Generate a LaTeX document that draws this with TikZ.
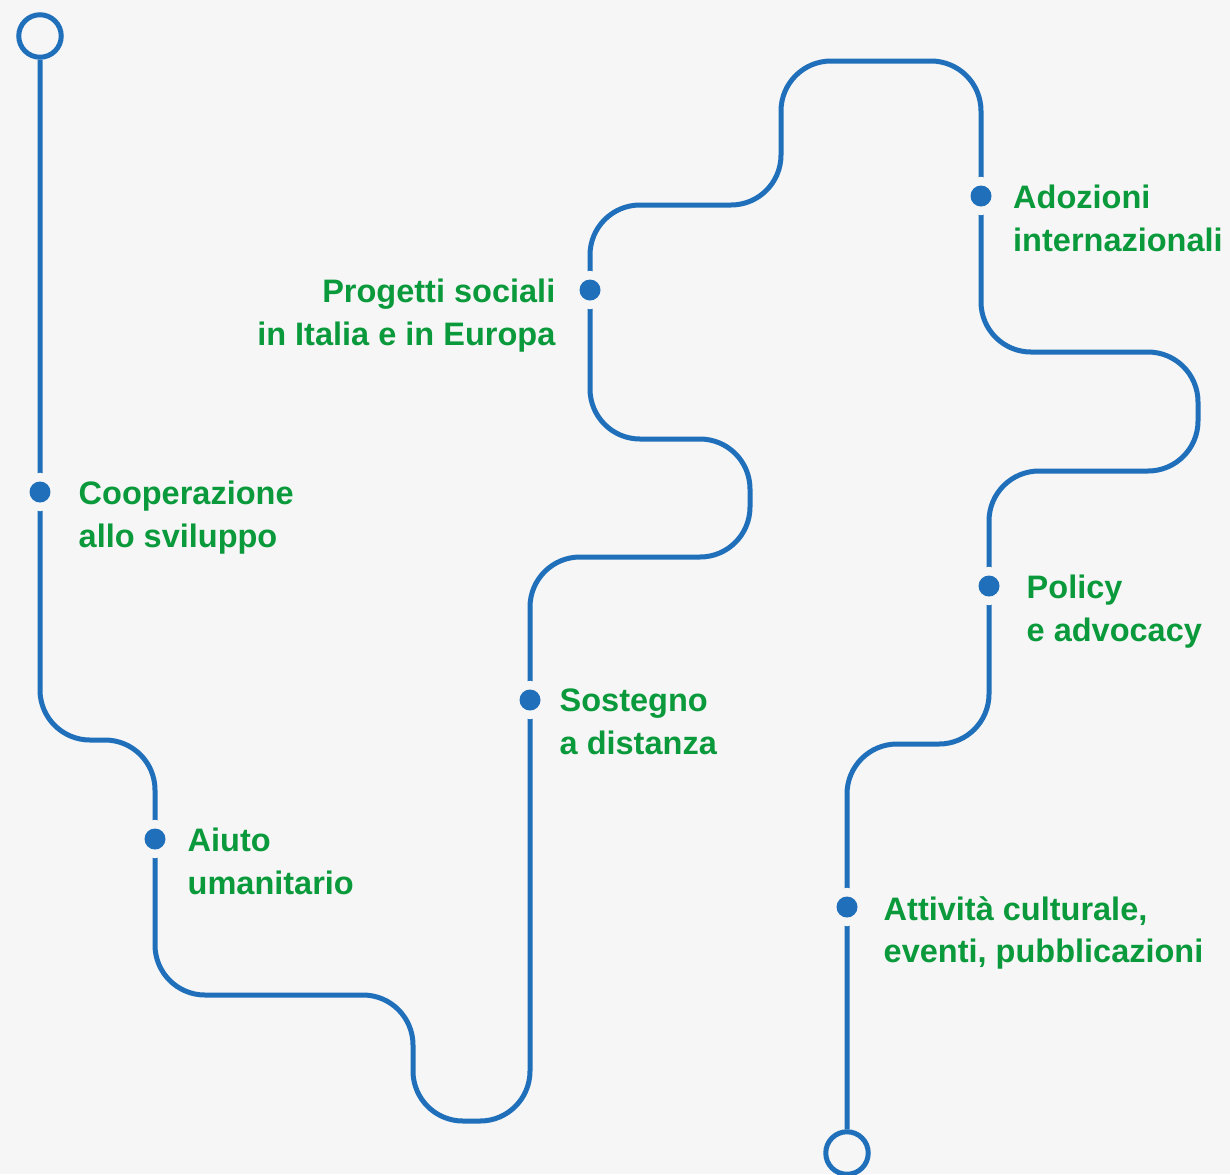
\documentclass[tikz,border=0pt]{standalone}
\usepackage{fontspec}
\setmainfont{Liberation Sans}
\usetikzlibrary{positioning}
\definecolor{paper}{HTML}{F6F6F6}
\definecolor{routeblue}{HTML}{1F6FBA}
\definecolor{tagreen}{HTML}{0A9A3C}
\tikzset{
  route/.style={draw=routeblue, line width=0.1cm, rounded corners=1cm},
  terminus/.style={circle, draw=routeblue, line width=0.1cm, fill=paper,
    minimum size=0.85cm, inner sep=0pt},
  halt/.style={circle, fill=routeblue, minimum size=0.42cm, inner sep=0pt,
    preaction={draw=paper, line width=0.34cm}},
  tag/.style={text=tagreen, inner sep=0pt, yshift=6.3pt,
    font=\bfseries\fontsize{18.5}{24}\selectfont},
  tagleft/.style={tag, align=left, anchor=north west},
  tagright/.style={tag, align=right, anchor=north east}
}
\begin{document}
\begin{tikzpicture}[x=0.02cm, y=-0.02cm]
  \fill[paper] (0,0) rectangle (1230,1174);
  \useasboundingbox (0,0) rectangle (1230,1174);

  % ends of the line
  \node[terminus] (start) at (40,36) {};
  \node[terminus] (finish) at (847,1153) {};

  % the winding line
  \draw[route] (start) -- (40,740) -- (155,740) -- (155,995)
    -- (413,995) -- (413,1121) -- (530,1121) -- (530,557)
    -- (750,557) -- (750,439) -- (590,439) -- (590,205)
    -- (781,205) -- (781,61) -- (981,61) -- (981,352)
    -- (1198,352) -- (1198,471) -- (989,471) -- (989,744)
    -- (847,744) -- (finish);

  % stops
  \node[halt] (coop) at (40,492) {};
  \node[halt] (aiuto) at (155,839) {};
  \node[halt] (sostegno) at (530,700) {};
  \node[halt] (progetti) at (590,290) {};
  \node[halt] (adozioni) at (981,196) {};
  \node[halt] (policy) at (989,586) {};
  \node[halt] (attivita) at (847,907) {};

  % labels
  \node[tagleft, right=0.55cm of coop, anchor=north west] (coopt) {Cooperazione\\allo sviluppo};
  \node[tagleft, right=0.43cm of aiuto, anchor=north west] (aiutot) {Aiuto\\umanitario};
  \node[tagleft, right=0.37cm of sostegno, anchor=north west] (sostegnot) {Sostegno\\a distanza};
  \node[tagright, left=0.47cm of progetti, anchor=north east] (progettit) {Progetti sociali\\in Italia e in Europa};
  \node[tagleft, right=0.42cm of adozioni, anchor=north west] (adozionit) {Adozioni\\internazionali};
  \node[tagleft, right=0.53cm of policy, anchor=north west] (policyt) {Policy\\e advocacy};
  \node[tagleft, right=0.51cm of attivita, anchor=north west] (attivitat) {Attività culturale,\\eventi, pubblicazioni};
\end{tikzpicture}
\end{document}
